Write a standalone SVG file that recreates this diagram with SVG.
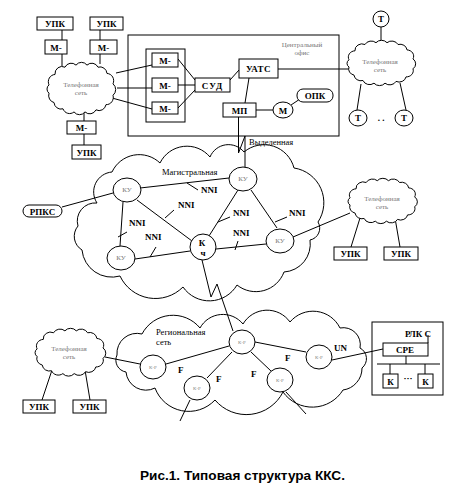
<svg xmlns="http://www.w3.org/2000/svg" xmlns:xlink="http://www.w3.org/1999/xlink" width="452" height="493" viewBox="0 0 452 493">
<style>
.ln{stroke:#000;stroke-width:1;fill:none}
.bx{fill:#fff;stroke:#000;stroke-width:1}
.nb{fill:none;stroke:#000;stroke-width:1}
.t{font-family:"Liberation Serif","Times New Roman",serif;font-size:9px;font-weight:bold;text-anchor:middle;fill:#000}
.g{font-family:"Liberation Serif","Times New Roman",serif;font-size:7px;text-anchor:middle;fill:#777}
.s{font-family:"Liberation Serif","Times New Roman",serif;font-size:5px;text-anchor:middle;fill:#888}
.lb{font-family:"Liberation Serif","Times New Roman",serif;font-size:9px;font-weight:bold;fill:#000}
.m{font-family:"Liberation Serif","Times New Roman",serif;font-size:8.5px;fill:#000}
</style>
<defs>
<path id="cl" vector-effect="non-scaling-stroke" fill="#fff" stroke="#000" stroke-width="1" d="M4,22 A7,7 0 0 1 10,12 A7,7 0 0 1 20,5 A7,7 0 0 1 31,3 A7,7 0 0 1 42,3 A7,7 0 0 1 53,5 A7,7 0 0 1 62,11 A7,7 0 0 1 68,21 A7,7 0 0 1 68,32 A7,7 0 0 1 61,41 A7,7 0 0 1 51,46 A7,7 0 0 1 40,48 A7,7 0 0 1 29,48 A7,7 0 0 1 18,45 A7,7 0 0 1 9,39 A7,7 0 0 1 4,30 A5,5 0 0 1 4,22 Z"/>
</defs>
<rect width="452" height="493" fill="#fff"/>

<!-- big clouds -->
<g id="backbone">
<path class="bx" d="M97,203 A20,20 0 0 1 112,172 A30,30 0 0 1 160,163 A30,30 0 0 1 210,157 A20,20 0 0 1 244,152 A31,31 0 0 1 294,168 A35,35 0 0 1 318,222 A12,12 0 0 1 310,240 A28,28 0 0 1 284,272 A30,30 0 0 1 237,285 A32,32 0 0 1 183,287 A39,39 0 0 1 120,276 A30,30 0 0 1 82,250 A16,16 0 0 1 78,226 A18,18 0 0 1 97,203 Z"/>
<text class="m" x="162" y="175">Магистральная</text>
</g>
<g id="regional">
<path class="bx" d="M117,355 A20,20 0 0 1 142,334 A35,35 0 0 1 200,328 A26,26 0 0 1 243,324 A28,28 0 0 1 290,322 A30,30 0 0 1 340,328 A17,17 0 0 1 360,348 A12,12 0 0 1 362,368 A22,22 0 0 1 343,390 A36,36 0 0 1 283,392 A41,41 0 0 1 215,400 A36,36 0 0 1 155,388 A20,20 0 0 1 126,372 A12,12 0 0 1 117,355 Z"/>
<text class="m" x="156" y="335">Региональная</text>
<text class="m" x="156" y="345">сеть</text>
</g>

<!-- connectors -->
<g id="connectors" class="ln">
<line x1="62" y1="30" x2="62" y2="40"/>
<line x1="62" y1="54" x2="62" y2="66"/>
<line x1="100" y1="30" x2="100" y2="40"/>
<line x1="100" y1="54" x2="100" y2="64"/>
<line x1="84" y1="112" x2="84" y2="121"/>
<line x1="84" y1="133" x2="84" y2="145"/>
<line x1="116" y1="73" x2="152" y2="65"/>
<line x1="117" y1="88" x2="152" y2="88"/>
<line x1="112" y1="98" x2="152" y2="109"/>
<line x1="178" y1="59" x2="195" y2="80"/>
<line x1="178" y1="85" x2="195" y2="85"/>
<line x1="178" y1="108" x2="195" y2="90"/>
<line x1="230" y1="80" x2="239" y2="70"/>
<line x1="278" y1="69" x2="349" y2="69"/>
<line x1="249" y1="78" x2="245" y2="103"/>
<line x1="256" y1="110" x2="273" y2="110"/>
<line x1="291" y1="105" x2="303" y2="97"/>
<polyline points="238.5,117 238.5,153 245,136 245,167"/>
<line x1="381" y1="27" x2="381" y2="42"/>
<line x1="361" y1="84" x2="357" y2="110"/>
<line x1="400" y1="83" x2="406" y2="110"/>
<line x1="62" y1="207" x2="113" y2="193"/>
<line x1="140" y1="188" x2="229" y2="178"/>
<line x1="137" y1="200" x2="192" y2="241"/>
<line x1="123" y1="202" x2="120" y2="246"/>
<line x1="135" y1="259" x2="190" y2="251"/>
<line x1="209" y1="236" x2="238" y2="190"/>
<line x1="216" y1="249" x2="266" y2="244"/>
<line x1="251" y1="190" x2="277" y2="228"/>
<line x1="293" y1="237" x2="350" y2="213"/>
<line x1="360" y1="218" x2="351" y2="247"/>
<line x1="395" y1="218" x2="400" y2="247"/>
<line x1="187" y1="183" x2="198" y2="190"/>
<line x1="165" y1="218" x2="174" y2="210"/>
<line x1="118" y1="237" x2="127" y2="232"/>
<line x1="150" y1="257" x2="156" y2="247"/>
<line x1="218" y1="222" x2="230" y2="217"/>
<line x1="235" y1="250" x2="238" y2="241"/>
<line x1="275" y1="222" x2="287" y2="217"/>
<polyline points="202,260 211,297 217,284 233,331"/>
<line x1="166" y1="364" x2="229" y2="346"/>
<line x1="255" y1="342" x2="306" y2="352"/>
<line x1="232" y1="352" x2="207" y2="378"/>
<line x1="251" y1="352" x2="271" y2="371"/>
<line x1="140" y1="364" x2="105" y2="357"/>
<line x1="332" y1="360" x2="383" y2="349"/>
<line x1="190" y1="400" x2="180" y2="421"/>
<line x1="286" y1="392" x2="306" y2="414"/>
<line x1="52" y1="370" x2="42" y2="400"/>
<line x1="85" y1="370" x2="90" y2="400"/>
</g>

<!-- top-left telephone network -->
<g id="upk1"><rect class="bx" x="37" y="17" width="36" height="13"/><text class="t" x="55" y="27">УПК</text></g>
<g id="upk2"><rect class="bx" x="90" y="17" width="33" height="13"/><text class="t" x="106.5" y="27">УПК</text></g>
<g id="m1"><rect class="bx" x="45" y="40" width="22" height="14"/><text class="t" x="56" y="50.5">М-</text></g>
<g id="m2"><rect class="bx" x="90" y="40" width="27" height="14"/><text class="t" x="103.5" y="50.5">М-</text></g>
<g id="tel-tl"><use xlink:href="#cl" href="#cl" transform="translate(45,62) scale(1,1.04)"/><text class="g" x="81" y="87">Телефонная</text><text class="g" x="81" y="95">сеть</text></g>
<g id="m3"><rect class="bx" x="67" y="121" width="29" height="13"/><text class="t" x="81.5" y="131">М-</text></g>
<g id="upk3"><rect class="bx" x="72" y="145" width="29" height="14"/><text class="t" x="86.5" y="155.5">УПК</text></g>

<!-- central office -->
<g id="office"><rect class="nb" x="128" y="35" width="211" height="101"/><text class="g" x="302" y="47">Центральный</text><text class="g" x="302" y="55">офис</text></g>
<g id="mgroup"><rect class="nb" x="146" y="49" width="39" height="73"/></g>
<g id="mo1"><rect class="bx" x="152" y="53" width="26" height="14"/><text class="t" x="165" y="63.5">М-</text></g>
<g id="mo2"><rect class="bx" x="152" y="78" width="26" height="14"/><text class="t" x="165" y="88.5">М-</text></g>
<g id="mo3"><rect class="bx" x="152" y="102" width="26" height="12"/><text class="t" x="165" y="111.5">М-</text></g>
<g id="sud"><rect class="bx" x="195" y="78" width="35" height="14"/><text class="t" x="212.5" y="88.5" letter-spacing="1">СУД</text></g>
<g id="uats"><rect class="bx" x="239" y="59" width="39" height="19"/><text class="t" x="258.5" y="71.5" letter-spacing="0.5">УАТС</text></g>
<g id="mp"><rect class="bx" x="223" y="103" width="33" height="14"/><text class="t" x="239.5" y="113.5">МП</text></g>
<g id="mc"><ellipse class="bx" cx="283" cy="110" rx="10" ry="8"/><text class="t" x="283" y="113.5">М</text></g>
<g id="opk"><rect class="bx" x="297" y="89" width="36" height="13" rx="6"/><text class="t" x="315" y="99">ОПК</text></g>
<text class="m" x="249" y="145" font-size="8">Выделенная</text>

<!-- top-right telephone network -->
<g id="tel-tr"><use xlink:href="#cl" href="#cl" transform="translate(345,40) scale(1,0.9)"/><text class="g" x="380" y="64">Телефонная</text><text class="g" x="380" y="72">сеть</text></g>
<g id="t1"><ellipse class="bx" cx="381" cy="19" rx="8" ry="8"/><text class="t" x="381" y="22" font-weight="normal">Т</text></g>
<g id="t2"><ellipse class="bx" cx="358" cy="118" rx="9" ry="8"/><text class="t" x="358" y="121" font-weight="normal">Т</text></g>
<g id="t3"><ellipse class="bx" cx="404" cy="118" rx="9" ry="8"/><text class="t" x="404" y="121" font-weight="normal">Т</text></g>
<text class="t" x="381" y="121" font-weight="normal">. .</text>

<!-- backbone nodes -->
<g id="rpks"><rect class="bx" x="23" y="205" width="39" height="12" rx="6"/><text class="t" x="42.5" y="214.5" font-size="8">РПКС</text></g>
<g id="ku1"><ellipse class="bx" cx="127" cy="190" rx="14" ry="12"/><text class="g" x="127" y="192">КУ</text></g>
<g id="ku2"><ellipse class="bx" cx="243" cy="179" rx="14" ry="12"/><text class="g" x="243" y="181">КУ</text></g>
<g id="ku3"><ellipse class="bx" cx="121" cy="258" rx="14" ry="12"/><text class="g" x="121" y="260">КУ</text></g>
<g id="ku4"><ellipse class="bx" cx="280" cy="241" rx="14" ry="12"/><text class="g" x="280" y="243">КУ</text></g>
<g id="k"><ellipse class="bx" cx="203" cy="247" rx="13" ry="13"/><text class="t" x="202" y="246" font-size="9">К</text><text class="t" x="203" y="256" font-size="4.5">ч</text></g>
<text class="lb" x="201" y="193">NNI</text>
<text class="lb" x="178" y="208">NNI</text>
<text class="lb" x="129" y="226">NNI</text>
<text class="lb" x="145" y="240">NNI</text>
<text class="lb" x="233" y="216">NNI</text>
<text class="lb" x="233" y="236">NNI</text>
<text class="lb" x="289" y="216">NNI</text>

<!-- right-middle telephone network -->
<g id="tel-rm"><use xlink:href="#cl" href="#cl" transform="translate(346,178) scale(1.01,0.9)"/><text class="g" x="382" y="201">Телефонная</text><text class="g" x="382" y="209">сеть</text></g>
<g id="upk4"><rect class="bx" x="334" y="247" width="33" height="13"/><text class="t" x="350.5" y="257">УПК</text></g>
<g id="upk5"><rect class="bx" x="384" y="247" width="34" height="13"/><text class="t" x="401" y="257">УПК</text></g>

<!-- regional nodes -->
<g id="r1"><ellipse class="bx" cx="242" cy="342" rx="13" ry="12"/><text class="s" x="242" y="344">К-Р</text></g>
<g id="r2"><ellipse class="bx" cx="153" cy="367" rx="13" ry="12"/><text class="s" x="153" y="369">К-Р</text></g>
<g id="r3"><ellipse class="bx" cx="197" cy="388" rx="13" ry="12"/><text class="s" x="197" y="390">К-Р</text></g>
<g id="r4"><ellipse class="bx" cx="280" cy="380" rx="13" ry="12"/><text class="s" x="280" y="382">К-Р</text></g>
<g id="r5"><ellipse class="bx" cx="319" cy="357" rx="13" ry="12"/><text class="s" x="319" y="359">К-Р</text></g>
<text class="lb" x="178" y="373">F</text>
<text class="lb" x="216" y="382">F</text>
<text class="lb" x="251" y="377">F</text>
<text class="lb" x="285" y="361">F</text>
<text class="lb" x="334" y="351" font-weight="normal">UN</text>

<!-- bottom-left telephone network -->
<g id="tel-bl"><use xlink:href="#cl" href="#cl" transform="translate(33,328) scale(1.03,0.95)"/><text class="g" x="69" y="351">Телефонная</text><text class="g" x="69" y="359">сеть</text></g>
<g id="upk6"><rect class="bx" x="23" y="400" width="32" height="13"/><text class="t" x="39" y="410">УПК</text></g>
<g id="upk7"><rect class="bx" x="73" y="400" width="33" height="13"/><text class="t" x="89.5" y="410">УПК</text></g>

<!-- RLKS -->
<g id="rlks"><rect class="nb" x="372" y="322" width="71" height="73"/><text class="t" x="418" y="337" font-weight="normal">РЛК С</text></g>
<g id="cpe"><rect class="bx" x="383" y="343" width="45" height="13"/><line class="ln" x1="428" y1="335" x2="428" y2="343"/><text class="t" x="405" y="353" font-weight="normal">СРЕ</text></g>
<g id="bus" class="ln"><line x1="377" y1="364" x2="440" y2="364"/><line x1="406" y1="356" x2="406" y2="364"/><line x1="390" y1="364" x2="390" y2="374"/><line x1="425" y1="364" x2="425" y2="374"/></g>
<g id="kb1"><rect class="bx" x="383" y="374" width="15" height="14"/><text class="t" x="390.5" y="384.5" font-weight="normal">К</text></g>
<g id="kb2"><rect class="bx" x="418" y="374" width="15" height="14"/><text class="t" x="425.5" y="384.5" font-weight="normal">К</text></g>
<text class="t" x="408" y="381" font-weight="normal" font-size="7">···</text>

<text x="140" y="480" font-family="'Liberation Sans',Arial,sans-serif" font-size="13" font-weight="bold" textLength="205" lengthAdjust="spacingAndGlyphs">Рис.1. Типовая структура ККС.</text>
</svg>
